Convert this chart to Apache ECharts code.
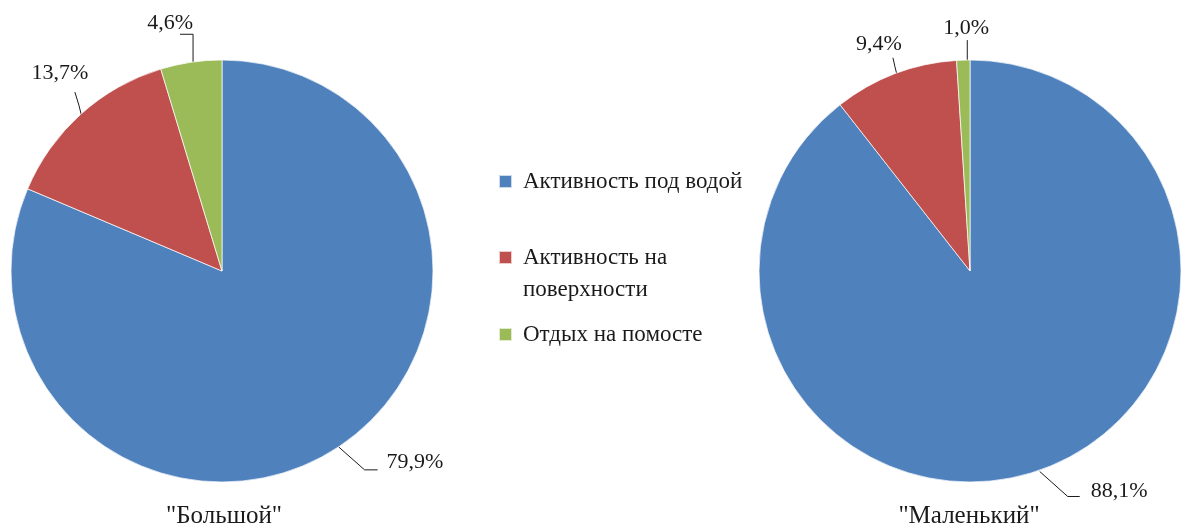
<!DOCTYPE html>
<html>
<head>
<meta charset="utf-8">
<script src="https://cdn.jsdelivr.net/npm/echarts@6/dist/echarts.min.js"></script>
<style>
html,body{margin:0;padding:0;background:#fff;}
#chart{width:1181px;height:528px;}
</style>
</head>
<body>
<div id="chart"></div>
<script>
// ---- data ----
const categories = ['Активность под водой', 'Активность на поверхности', 'Отдых на помосте'];
const legendLabels = ['Активность под водой', 'Активность на\nповерхности', 'Отдых на помосте'];
const bigValues = [79.9, 13.7, 4.6];
const smallValues = [88.1, 9.4, 1.0];
const pieTitles = ['"Большой"', '"Маленький"'];
const colors = ['#4F81BD', '#C0504D', '#9BBB59'];

// ---- layout ----
const FONT = "'Liberation Serif', 'Times New Roman', serif";
const R = 211;
const centers = [[222, 271], [970, 271]];
const titleX = [224, 969];
// leader line offsets relative to ECharts' anchor point on the slice edge
const leaders = [
  [
    { pts: [[0, 0], [26, 23], [39, 23]], lx: 48, ly: 15, align: 'left' },
    { pts: [[1, 3], [-2, -9], [-6, -22]], lx: -21, ly: -41, align: 'center' },
    { pts: [[2, 1], [2, -28], [-11, -28]], lx: -21, ly: -39, align: 'center' }
  ],
  [
    { pts: [[1, 1], [29, 26], [41, 26]], lx: 52, ly: 21, align: 'left' },
    { pts: [[2, 1], [0, -7], [-2, -16]], lx: -16, ly: -30, align: 'center' },
    { pts: [[4, 1], [4, -10], [4, -20]], lx: 3, ly: -32, align: 'center' }
  ]
];

const fmt = v => v.toFixed(1).replace('.', ',') + '%';

function makeSeries(idx, values) {
  return {
    type: 'pie',
    center: centers[idx],
    radius: R,
    startAngle: 90,
    clockwise: true,
    avoidLabelOverlap: false,
    silent: true,
    animation: false,
    itemStyle: { borderColor: 'rgba(255,255,255,0.7)', borderWidth: 1 },
    label: {
      show: true,
      position: 'outside',
      formatter: p => fmt(p.value),
      fontFamily: FONT,
      fontSize: 22,
      color: '#1a1a1a'
    },
    labelLine: { show: true, length: 20, length2: 10, lineStyle: { color: '#1a1a1a', width: 1 } },
    labelLayout: function (params) {
      const L = leaders[params.seriesIndex][params.dataIndex];
      const a = params.labelLinePoints ? params.labelLinePoints[0] : [0, 0];
      return {
        x: a[0] + L.lx,
        y: a[1] + L.ly,
        align: L.align,
        verticalAlign: 'middle',
        labelLinePoints: L.pts.map(p => [a[0] + p[0], a[1] + p[1]])
      };
    },
    data: categories.map((c, i) => ({ name: c, value: values[i] }))
  };
}

// legend: one block per item so that the two-line item keeps its marker on the first line
const legendTops = [165.5, 209.5, 318.5];
const legendFormat = [
  () => '{a|' + legendLabels[0] + '}',
  () => '{e| }\n' + legendLabels[1].split('\n').map(s => '{a|' + s + '}').join('\n'),
  () => '{a|' + legendLabels[2] + '}'
];

const chart = echarts.init(document.getElementById('chart'), null, { renderer: 'canvas' });
chart.setOption({
  animation: false,
  color: colors,
  title: pieTitles.map((t, i) => ({
    text: t,
    left: titleX[i],
    top: 504,
    textAlign: 'center',
    padding: 0,
    textStyle: { fontFamily: FONT, fontSize: 25, fontWeight: 'normal', color: '#1a1a1a' }
  })),
  legend: categories.map((c, i) => ({
    data: [c],
    orient: 'vertical',
    left: 498,
    top: legendTops[i],
    padding: 0,
    icon: 'rect',
    itemWidth: 13,
    itemHeight: 13,
    selectedMode: false,
    formatter: legendFormat[i],
    textStyle: {
      fontFamily: FONT, fontSize: 23, lineHeight: 32, color: '#1a1a1a', padding: [0, 0, 0, 6],
      rich: {
        a: { fontFamily: FONT, fontSize: 23, lineHeight: 32, color: '#1a1a1a' },
        e: { fontFamily: FONT, fontSize: 23, lineHeight: 32 }
      }
    }
  })),
  series: [makeSeries(0, bigValues), makeSeries(1, smallValues)]
});
</script>
</body>
</html>
